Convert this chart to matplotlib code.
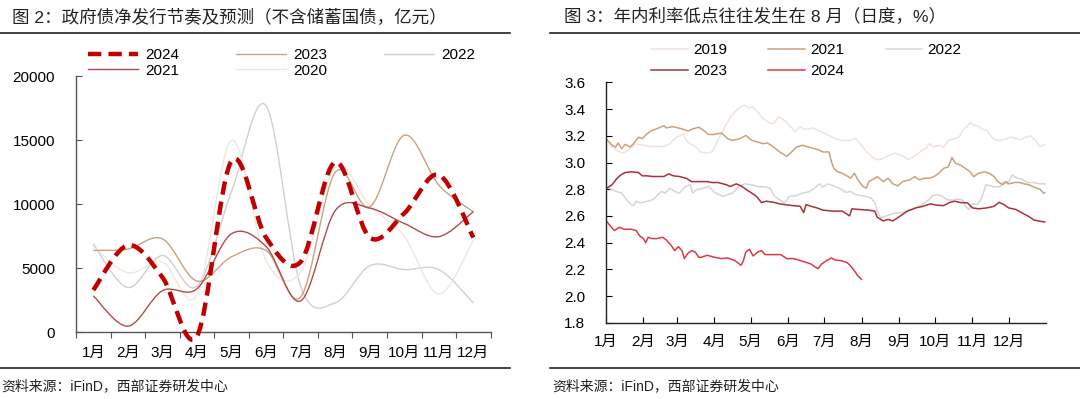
import numpy as np
import matplotlib
matplotlib.use("Agg")
import matplotlib.pyplot as plt
from matplotlib.path import Path
from matplotlib.patches import PathPatch
from matplotlib.lines import Line2D

plt.rcParams['font.family'] = ['Liberation Sans', 'Noto Sans CJK SC']
plt.rcParams['axes.unicode_minus'] = False

# ---------------- left chart: monthly net issuance (亿元) ----------------
months = ['1月', '2月', '3月', '4月', '5月', '6月', '7月', '8月', '9月', '10月', '11月', '12月']
v2024 = [3300, 6800, 4300, -300, 13400, 7400, 5500, 13300, 7400, 9300, 12300, 7400]
v2023 = [6400, 6500, 7300, 4000, 5900, 6400, 2750, 12500, 9800, 15400, 11500, 9400]
v2022 = [6900, 3500, 6000, 3600, 11000, 17700, 3600, 2300, 5200, 4900, 4900, 2300]
v2021 = [2850, 480, 3250, 3400, 7700, 6700, 2450, 9500, 9700, 8500, 7470, 9430]
v2020 = [6700, 4650, 5500, 2900, 15000, 5600, 4700, 12900, 9900, 7500, 3000, 7200]

# ---------------- right chart: daily 10Y yield by day of year (%) ----------------
d2019 = [0, 4, 9, 14, 20, 24, 31, 37, 42, 48, 53, 57, 61, 64, 67, 70, 74, 78, 84, 88,
         92, 96, 100, 104, 108, 112, 115, 118, 121, 125, 130, 135, 139, 143, 146, 150,
         154, 157, 161, 164, 168, 172, 176, 182, 190, 196, 202, 207, 211, 216, 221, 225,
         230, 235, 240, 246, 251, 257, 262, 266, 268, 272, 276, 280, 284, 289, 293, 296,
         299, 302, 305, 308, 312, 316, 320, 323, 327, 331, 336, 340, 344, 348, 352, 356,
         360, 364]
y2019 = [3.17, 3.13, 3.09, 3.07, 3.10, 3.14, 3.13, 3.12, 3.12, 3.12, 3.14, 3.18, 3.20,
         3.215, 3.16, 3.14, 3.12, 3.08, 3.07, 3.08, 3.15, 3.22, 3.29, 3.35, 3.39, 3.42,
         3.43, 3.41, 3.42, 3.39, 3.33, 3.30, 3.29, 3.34, 3.33, 3.30, 3.26, 3.23, 3.27,
         3.25, 3.25, 3.26, 3.24, 3.215, 3.18, 3.165, 3.165, 3.18, 3.14, 3.08, 3.04, 3.02,
         3.03, 3.055, 3.07, 3.05, 3.02, 3.055, 3.09, 3.11, 3.14, 3.115, 3.13, 3.115,
         3.165, 3.18, 3.19, 3.24, 3.265, 3.30, 3.28, 3.276, 3.25, 3.24, 3.19, 3.17, 3.165,
         3.175, 3.19, 3.18, 3.17, 3.19, 3.20, 3.17, 3.12, 3.135]

d2021 = [1, 5, 8, 10, 13, 16, 20, 24, 27, 30, 34, 38, 42, 48, 50, 55, 60, 64, 68, 72, 77,
         81, 85, 89, 96, 101, 105, 111, 116, 121, 126, 130, 134, 139, 144, 150, 154, 158,
         163, 168, 173, 177, 180, 185, 187, 189, 192, 196, 200, 203, 206, 209, 213, 216,
         218, 223, 225, 230, 234, 238, 242, 246, 252, 256, 260, 264, 268, 272, 276, 280,
         284, 287, 290, 294, 298, 302, 305, 309, 314, 318, 322, 325, 329, 332, 334, 339,
         343, 347, 351, 355, 360, 363, 364]
y2021 = [3.17, 3.13, 3.116, 3.146, 3.104, 3.136, 3.116, 3.153, 3.19, 3.178, 3.215, 3.24,
         3.252, 3.276, 3.259, 3.269, 3.259, 3.249, 3.235, 3.252, 3.264, 3.24, 3.21, 3.21,
         3.22, 3.178, 3.166, 3.178, 3.203, 3.166, 3.153, 3.141, 3.146, 3.116, 3.079,
         3.047, 3.079, 3.116, 3.129, 3.116, 3.104, 3.092, 3.079, 3.079, 3.005, 2.956,
         2.931, 2.919, 2.899, 2.882, 2.92, 2.87, 2.82, 2.808, 2.857, 2.882, 2.894, 2.857,
         2.882, 2.84, 2.825, 2.857, 2.87, 2.894, 2.87, 2.882, 2.882, 2.894, 2.919, 2.956,
         2.968, 3.037, 2.993, 2.981, 2.956, 2.931, 2.894, 2.919, 2.931, 2.919, 2.894,
         2.857, 2.833, 2.857, 2.84, 2.85, 2.85, 2.84, 2.833, 2.816, 2.80, 2.77, 2.775]

d2022 = [1, 5, 9, 13, 17, 21, 23, 25, 28, 34, 39, 43, 46, 49, 53, 57, 61, 66, 70, 72, 75,
         81, 85, 88, 90, 97, 101, 105, 110, 115, 121, 126, 132, 136, 140, 144, 148, 152,
         158, 163, 169, 173, 177, 180, 184, 189, 195, 199, 203, 207, 216, 220, 223, 225,
         228, 232, 236, 241, 245, 249, 254, 259, 263, 268, 271, 275, 279, 283, 287, 292,
         296, 298, 301, 304, 308, 311, 314, 315, 319, 323, 327, 330, 333, 337, 341, 345,
         350, 355, 360, 364]
y2022 = [2.816, 2.796, 2.783, 2.771, 2.722, 2.685, 2.677, 2.709, 2.697, 2.709, 2.722,
         2.759, 2.783, 2.771, 2.808, 2.783, 2.771, 2.82, 2.833, 2.771, 2.796, 2.808, 2.82,
         2.796, 2.776, 2.746, 2.759, 2.771, 2.82, 2.84, 2.833, 2.82, 2.816, 2.808, 2.746,
         2.722, 2.697, 2.746, 2.751, 2.771, 2.783, 2.808, 2.84, 2.816, 2.84, 2.825, 2.80,
         2.776, 2.783, 2.759, 2.746, 2.734, 2.697, 2.636, 2.586, 2.599, 2.611, 2.623,
         2.623, 2.636, 2.648, 2.668, 2.69, 2.722, 2.751, 2.759, 2.746, 2.722, 2.717,
         2.727, 2.717, 2.672, 2.648, 2.692, 2.685, 2.722, 2.796, 2.833, 2.825, 2.816,
         2.82, 2.857, 2.84, 2.907, 2.882, 2.875, 2.85, 2.85, 2.84, 2.84]

d2023 = [1, 5, 9, 12, 16, 21, 27, 30, 34, 39, 48, 52, 56, 61, 67, 71, 78, 84, 88, 93, 100,
         103, 108, 112, 116, 121, 125, 129, 133, 140, 144, 148, 155, 161, 164, 166, 170,
         175, 180, 188, 196, 202, 204, 210, 218, 223, 225, 230, 234, 238, 242, 246, 250,
         257, 263, 269, 275, 280, 285, 289, 294, 300, 304, 309, 316, 322, 326, 330, 334,
         340, 345, 351, 355, 360, 364]
y2023 = [2.81, 2.833, 2.88, 2.905, 2.925, 2.93, 2.925, 2.90, 2.90, 2.895, 2.895, 2.915,
         2.90, 2.895, 2.88, 2.857, 2.857, 2.857, 2.85, 2.85, 2.833, 2.82, 2.84, 2.825,
         2.80, 2.77, 2.745, 2.70, 2.71, 2.70, 2.69, 2.685, 2.677, 2.672, 2.625, 2.685,
         2.672, 2.66, 2.643, 2.636, 2.636, 2.60, 2.653, 2.648, 2.643, 2.636, 2.59, 2.562,
         2.574, 2.562, 2.586, 2.611, 2.636, 2.66, 2.672, 2.69, 2.68, 2.677, 2.70, 2.71,
         2.70, 2.697, 2.66, 2.653, 2.66, 2.672, 2.702, 2.685, 2.66, 2.648, 2.623, 2.594,
         2.569, 2.56, 2.555]

d2024 = [1, 3, 7, 11, 15, 21, 25, 28, 31, 33, 35, 38, 42, 47, 50, 54, 57, 60, 63, 65, 68,
         71, 74, 77, 79, 84, 90, 96, 101, 107, 112, 114, 116, 119, 122, 126, 129, 132, 137,
         145, 150, 156, 165, 170, 173, 176, 179, 183, 187, 190, 195, 200, 203, 206, 209,
         212]
y2024 = [2.555, 2.53, 2.49, 2.515, 2.50, 2.50, 2.49, 2.45, 2.43, 2.40, 2.44, 2.43, 2.43,
         2.44, 2.42, 2.38, 2.34, 2.37, 2.34, 2.28, 2.32, 2.34, 2.33, 2.29, 2.29, 2.305,
         2.29, 2.28, 2.285, 2.265, 2.23, 2.265, 2.33, 2.35, 2.30, 2.33, 2.34, 2.31, 2.31,
         2.31, 2.28, 2.28, 2.255, 2.24, 2.22, 2.205, 2.24, 2.265, 2.285, 2.27, 2.265, 2.25,
         2.225, 2.19, 2.15, 2.125]

month_start = [0, 31, 59, 90, 120, 151, 181, 212, 243, 273, 304, 334]


def smooth_path(xs, ys):
    # excel-style smoothed line: catmull-rom segments as cubic bezier
    pts = np.column_stack([xs, ys]).astype(float)
    ext = np.vstack([pts[0], pts, pts[-1]])
    verts = [pts[0]]
    codes = [Path.MOVETO]
    for i in range(1, len(ext) - 2):
        p0, p1, p2, p3 = ext[i - 1], ext[i], ext[i + 1], ext[i + 2]
        verts += [p1 + (p2 - p0) / 6, p2 - (p3 - p1) / 6, p2]
        codes += [Path.CURVE4] * 3
    return Path(verts, codes)


W, H = 1080, 399
fig = plt.figure(figsize=(W / 100, H / 100), dpi=100)

def px_rect(x0, y_top, x1, y_bot):
    return [x0 / W, 1 - y_bot / H, (x1 - x0) / W, (y_bot - y_top) / H]

# ---------- left ----------
ax1 = fig.add_axes(px_rect(76, 76.3, 490.7, 332.3))
xm = np.arange(1, 13)
left_series = [
    ('2022', v2022, '#d3cfcf', 1.0, '-'),
    ('2020', v2020, '#f1e6dc', 1.0, '-'),
    ('2023', v2023, '#c9a27f', 1.0, '-'),
    ('2021', v2021, '#b24c4c', 1.0, '-'),
    ('2024', v2024, '#c00000', 3.2, (0, (3.0, 1.6))),
]
handles1 = {}
for name, vals, col, lw, ls in left_series:
    patch = PathPatch(smooth_path(xm, vals), fill=False, edgecolor=col, lw=lw,
                      linestyle=ls, clip_on=False, zorder=5 if name == '2024' else 3)
    ax1.add_patch(patch)
    handles1[name] = Line2D([], [], color=col, lw=lw, linestyle=ls)

ax1.set_xlim(0.5, 12.5)
ax1.set_ylim(0, 20000)
ax1.set_yticks([0, 5000, 10000, 15000, 20000])
ax1.set_xticks(np.arange(0.5, 13.5, 1))
ax1.set_xticklabels([])
ax1.set_xticks(xm, minor=True)
ax1.set_xticklabels(months, minor=True)
ax1.tick_params(axis='x', which='major', direction='out', length=4, color='#555555')
ax1.tick_params(axis='x', which='minor', length=0, pad=10, labelsize=11)
ax1.tick_params(axis='y', direction='in', length=4, pad=15, labelsize=11, color='#555555')
for s in ['top', 'right']:
    ax1.spines[s].set_visible(False)
for s in ['left', 'bottom']:
    ax1.spines[s].set_color('#555555')
    ax1.spines[s].set_linewidth(1.0)

order1 = ['2024', '2021', '2023', '2020', '2022']
fig.legend([handles1[k] for k in order1], order1, loc='upper left',
           bbox_to_anchor=(88 / W, 1 - 48 / H), ncol=3, frameon=False, fontsize=11,
           handlelength=3.3, handletextpad=0.45, columnspacing=3.7,
           labelspacing=0.12, borderpad=0, borderaxespad=0)

# ---------- right ----------
ax2 = fig.add_axes(px_rect(606, 82.4, 1046, 322.7))
right_series = [
    ('2019', d2019, y2019, '#f1e3da'),
    ('2022', d2022, y2022, '#d6d6d6'),
    ('2021', d2021, y2021, '#caa27f'),
    ('2023', d2023, y2023, '#a8323a'),
    ('2024', d2024, y2024, '#dc3a44'),
]
handles2 = {}
for name, dd, yy, col in right_series:
    ln, = ax2.plot(dd, yy, color=col, lw=1.1)
    handles2[name] = ln

ax2.set_xlim(0, 365)
ax2.set_ylim(1.8, 3.6)
ax2.set_yticks(np.arange(1.8, 3.61, 0.2))
ax2.set_yticklabels([f'{v:.1f}' for v in np.arange(1.8, 3.61, 0.2)])
ax2.set_xticks(month_start)
ax2.set_xticklabels(months)
ax2.tick_params(axis='x', direction='in', length=4, pad=9, labelsize=11)
ax2.tick_params(axis='y', direction='in', length=4, pad=15, labelsize=11)
for s in ['top', 'right']:
    ax2.spines[s].set_visible(False)
for s in ['left', 'bottom']:
    ax2.spines[s].set_color('#222222')
    ax2.spines[s].set_linewidth(1.0)

order2 = ['2019', '2023', '2021', '2024', '2022']
fig.legend([handles2[k] for k in order2], order2, loc='upper left',
           bbox_to_anchor=(651 / W, 1 - 43 / H), ncol=3, frameon=False, fontsize=11,
           handlelength=2.4, handletextpad=0.35, columnspacing=2.7,
           labelspacing=0.45, borderpad=0, borderaxespad=0)

# ---------- titles, rules, sources ----------
fig.text(12 / W, 1 - 17 / H, '图 2：政府债净发行节奏及预测（不含储蓄国债，亿元）',
         fontsize=12.6, color='#222222', va='center', ha='left')
fig.text(564 / W, 1 - 17 / H, '图 3：年内利率低点往往发生在 8 月（日度，%）',
         fontsize=12.6, color='#222222', va='center', ha='left')
for x0, x1 in [(0, 510), (550, 1080)]:
    for yy in [33.3, 367.7]:
        fig.add_artist(Line2D([x0 / W, x1 / W], [1 - yy / H] * 2, transform=fig.transFigure,
                              color='#222222', lw=1.2))
fig.text(1 / W, 1 - 386 / H, '资料来源：iFinD，西部证券研发中心', fontsize=10,
         color='#222222', va='center', ha='left')
fig.text(552 / W, 1 - 386 / H, '资料来源：iFinD，西部证券研发中心', fontsize=10,
         color='#222222', va='center', ha='left')

fig.savefig('out.png', dpi=100)
